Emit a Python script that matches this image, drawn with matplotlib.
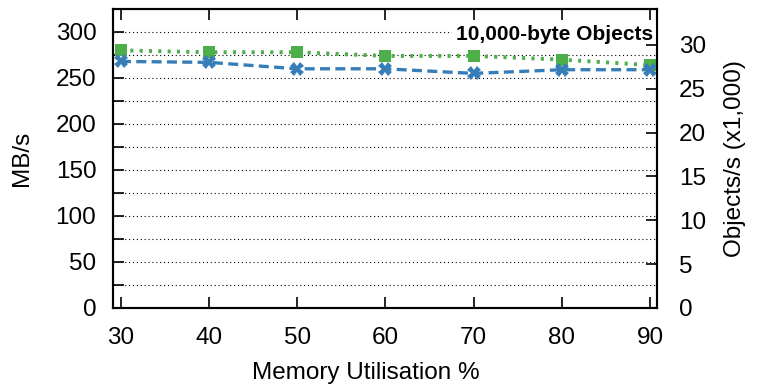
import numpy as np
import matplotlib.pyplot as plt
from matplotlib.ticker import MultipleLocator

plt.rcParams['font.family'] = ['Liberation Sans', 'DejaVu Sans']

# Throughput for 10,000-byte objects at each memory utilisation level
utilisation = [30, 40, 50, 60, 70, 80, 90]
blue_mbps = [268, 267, 260, 260, 255, 259, 259]
green_mbps = [280, 278, 278, 274, 274, 270, 264]

obj_size = 10000
# MB/s -> thousands of objects per second
scale = 1048576 / obj_size / 1000

fs = 17.5

fig = plt.figure(figsize=(7.66, 3.88), dpi=100)
ax = fig.add_axes([113 / 766, 1 - 308 / 388, (657 - 113) / 766, (308 - 9) / 388])

ax.plot(utilisation, blue_mbps, color='#377eb8', linestyle=(0, (3, 1.6)), linewidth=2.4,
        marker='X', markersize=10, markeredgewidth=0, zorder=3)
ax.plot(utilisation, green_mbps, color='#4daf4a', linestyle=(0, (0.8, 1.6)), linewidth=2.8,
        marker='s', markersize=8, markeredgewidth=0, zorder=2)

ax.set_xlim(29.1, 90.8)
ax.set_ylim(0, 325)
ax.set_xticks(utilisation)
ax.yaxis.set_major_locator(MultipleLocator(50))
ax.yaxis.set_minor_locator(MultipleLocator(25))
ax.grid(True, which='both', axis='y', color='black', linestyle=(0, (1, 2.5)), linewidth=0.8)
ax.set_axisbelow(True)

ax.tick_params(axis='both', which='both', direction='in', labelsize=fs, width=1.2,
               top=True, right=False, length=8)
ax.tick_params(axis='y', pad=12)
ax.tick_params(axis='x', pad=14)
for s in ax.spines.values():
    s.set_linewidth(1.5)

ax.set_xlabel('Memory Utilisation %', fontsize=fs)
ax.xaxis.set_label_coords(0.465, -0.18)
ax.xaxis.label.set_va('top')
ax.set_ylabel('MB/s', fontsize=fs, labelpad=16)

ax2 = ax.twinx()
ax2.set_ylim(0, 325 * scale)
ax2.yaxis.set_major_locator(MultipleLocator(5))
ax2.tick_params(axis='y', direction='in', length=8, width=1.2, labelsize=fs, pad=16)
ax2.set_ylabel('Objects/s (x1,000)', fontsize=fs, labelpad=13)
for s in ax2.spines.values():
    s.set_linewidth(1.5)

ax.text(0.993, 0.915, '10,000-byte Objects', transform=ax.transAxes, ha='right', va='center',
        fontsize=15, fontweight='bold',
        bbox=dict(facecolor='white', edgecolor='none', pad=3), zorder=5)

fig.savefig('out.png', dpi=100)
